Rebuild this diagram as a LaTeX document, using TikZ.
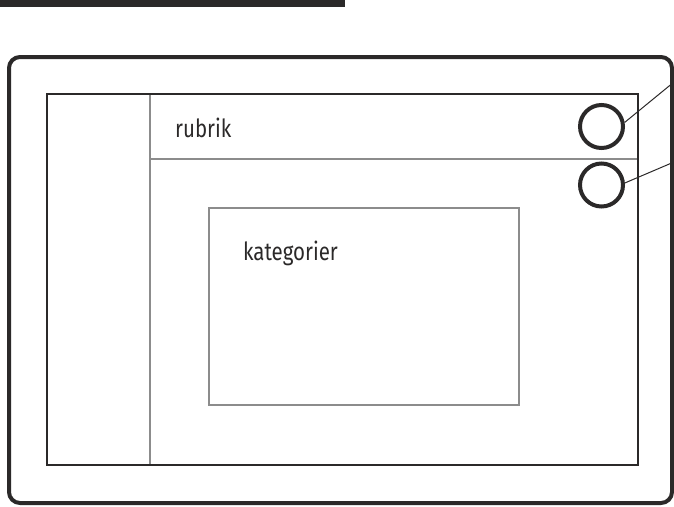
\documentclass[tikz,border=0pt]{standalone}
\usepackage{fontspec}
\setmainfont{Fira Sans}[FakeStretch=0.82]
\definecolor{ink}{HTML}{2B2929}
\definecolor{rulegray}{HTML}{8C8C8C}
\begin{document}
\begin{tikzpicture}[x=1pt,y=-1pt,
  box/.style={rectangle,inner sep=0pt,outer sep=0pt,anchor=north west},
  outerframe/.style={box,draw=ink,line width=4pt,rounded corners=11pt},
  darkframe/.style={box,draw=ink,line width=2.5pt},
  grayframe/.style={box,draw=rulegray,line width=2pt},
  knob/.style={circle,draw=ink,line width=4pt,minimum size=43pt,inner sep=0pt},
  lead/.style={draw=ink,line width=1pt},
  label/.style={anchor=base west,inner sep=0pt,text=ink,font=\fontsize{25}{29}\selectfont}]
\useasboundingbox (0,0) rectangle (674,506);
\fill[ink] (0,0) rectangle (345,7);
\node[outerframe,minimum width=663pt,minimum height=446pt] (outer) at (9,57) {};
\node[grayframe,minimum width=488pt,minimum height=65pt] (header) at (150,94) {};
\node[grayframe,minimum width=103pt,minimum height=371pt] (sidebar) at (47,94) {};
\node[darkframe,minimum width=591pt,minimum height=371pt] (inner) at (47,94) {};
\node[grayframe,minimum width=310pt,minimum height=197pt] (kat) at (209,208) {};
\node[label] (rubrik) at (175,137) {rubrik};
\node[label] (kattext) at (243,260) {kategorier};
\node[knob] (c1) at (601.5,126.5) {};
\node[knob] (c2) at (601.5,185) {};
\coordinate (e1) at (674,82);
\coordinate (e2) at (674,162);
\draw[lead] (c1.10) -- (e1);
\draw[lead] (c2.5) -- (e2);
\end{tikzpicture}
\end{document}
